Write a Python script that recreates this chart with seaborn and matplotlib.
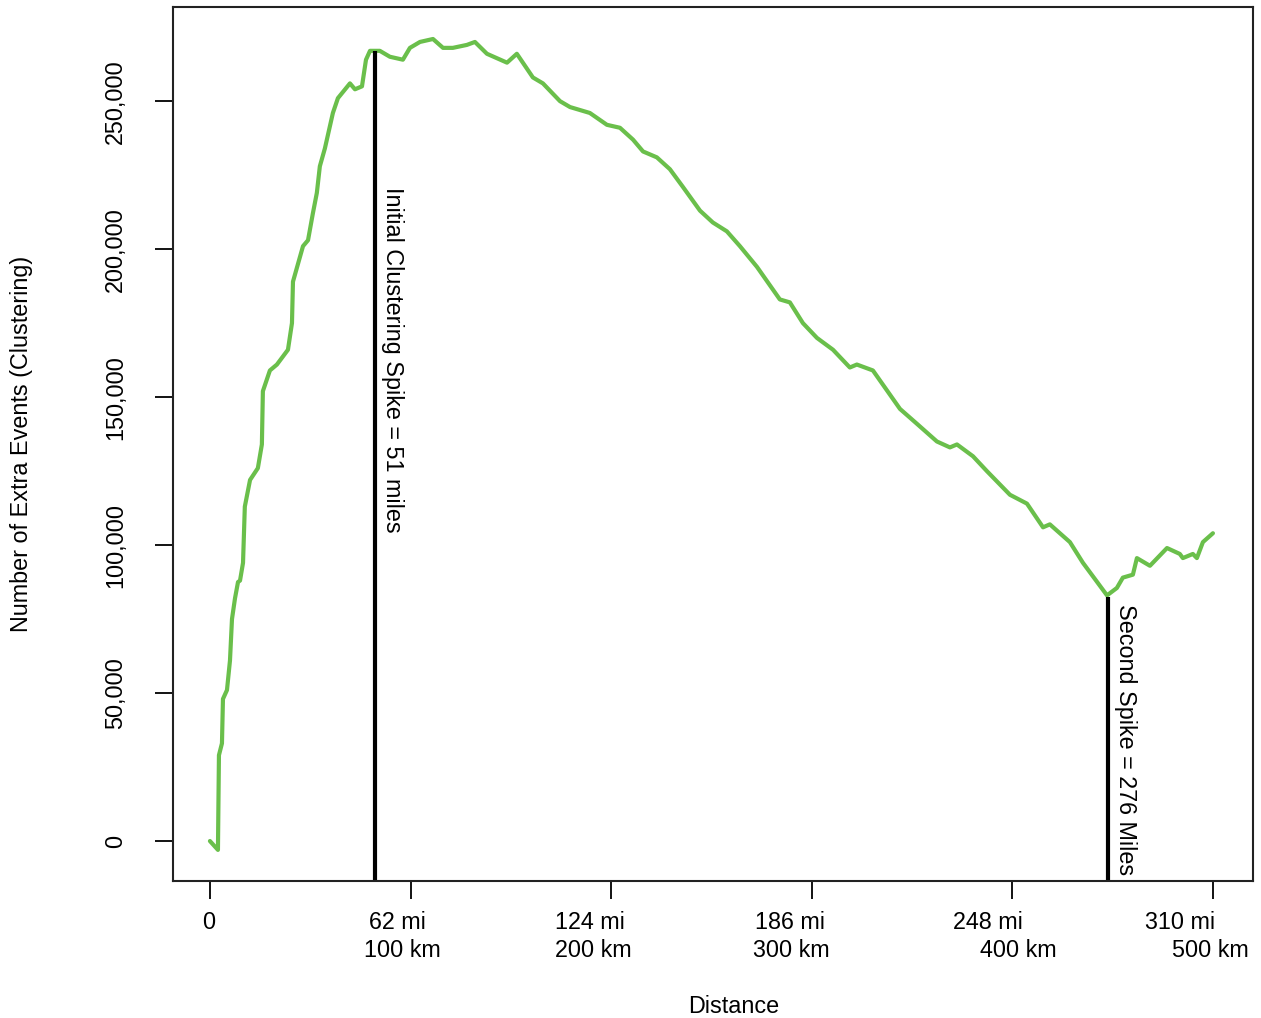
import pandas as pd
import seaborn as sns
import matplotlib.pyplot as plt
import matplotlib.ticker as mticker
from matplotlib.transforms import blended_transform_factory

# ==========================================
# DATA
# ==========================================
distance_km = [0, 4.0, 4.5, 6.0, 6.5, 8.5, 10.0, 11.0, 12.5, 14.0, 15.0, 16.5, 17.4,
               20.0, 23.9, 25.9, 26.4, 29.9, 33.4, 38.9, 40.9, 41.4, 43.9, 46.4,
               48.9, 51.3, 53.3, 54.8, 57.3, 61.3, 63.8, 69.8, 72.3, 75.8, 77.8,
               79.8, 84.7, 89.7, 96.2, 99.7, 104.7, 111.2, 116.2, 121.1, 128.1,
               132.1, 138.1, 148.1, 153.0, 161.0, 166.0, 174.5, 179.5, 189.4,
               197.9, 204.4, 210.9, 215.9, 222.8, 229.3, 235.8, 244.3, 250.7,
               257.7, 264.2, 272.7, 284.1, 289.1, 295.6, 302.6, 310.6, 319.0,
               322.5, 330.5, 344.0, 352.4, 362.4, 368.9, 372.4, 380.4, 387.3,
               398.8, 407.3, 415.3, 418.7, 428.7, 435.2, 447.2, 452.1, 455.1,
               460.1, 462.1, 468.6, 477.1, 483.5, 485.0, 490.0, 492.0, 495.0, 500.0]
extra_events = [0, -3000, 29000, 33000, 48000, 51000, 61000, 75000, 82000, 87500,
                88000, 94000, 113000, 122000, 126000, 134000, 152000, 159000,
                161000, 166000, 175000, 189000, 195000, 201000, 203000, 212000,
                219000, 228000, 234000, 246000, 251000, 256000, 254000, 255000,
                264000, 267000, 267000, 265000, 264000, 268000, 270000, 271000,
                268000, 268000, 269000, 270000, 266000, 263000, 266000, 258000,
                256000, 250000, 248000, 246000, 242000, 241000, 237000, 233000,
                231000, 227000, 221000, 213000, 209000, 206000, 201000, 194000,
                183000, 182000, 175000, 170000, 166000, 160000, 161000, 159000,
                146000, 141000, 135000, 133000, 134000, 130000, 125000, 117000,
                114000, 106000, 107000, 101000, 94000, 83000, 85500, 89000, 90000,
                95600, 93000, 99000, 97000, 95600, 97000, 95600, 101000, 104000]

tick_km = [0, 100, 200, 300, 400, 500]
mi_labels = ['0', '62 mi', '124 mi', '186 mi', '248 mi', '310 mi']
km_labels = ['', '100 km', '200 km', '300 km', '400 km', '500 km']
# where the R labels ended up (slightly off the ticks in the original)
mi_label_x = [-0.5, 93.7, 189.4, 289.0, 387.8, 483.5]
km_label_x = [None, 95.7, 191.0, 290.0, 402.8, 498.5]

spike_km = [82.3, 447.7]
spike_top = [267000, 82500]
spike_text = ['Initial Clustering Spike = 51 miles', 'Second Spike = 276 Miles']
spike_text_x = [91.2, 456.6]
spike_text_y = [221000, 80000]

df = pd.DataFrame({'km': distance_km, 'eventos': extra_events})

# ==========================================
# FIGURA
# ==========================================
sns.set_theme(style="ticks")
plt.rcParams['font.family'] = ['Liberation Sans', 'DejaVu Sans']
plt.rcParams['text.color'] = 'black'
plt.rcParams['axes.labelcolor'] = 'black'
plt.rcParams['xtick.color'] = 'black'
plt.rcParams['ytick.color'] = 'black'

FS = 16.8

fig = plt.figure(figsize=(12.61, 10.18), dpi=100)
ax = fig.add_axes([0.1372, 0.1346, 0.8565, 0.8585])

sns.lineplot(data=df, x='km', y='eventos', ax=ax, color='#6abf4b',
             linewidth=3.0, estimator=None, sort=False)

ax.set_xlim(-18.4, 520)
ax.set_ylim(-13500, 281800)

# lineas verticales de los picos
ax.vlines(spike_km, ax.get_ylim()[0], spike_top, color='black', linewidth=3.0)
for x, y, t in zip(spike_text_x, spike_text_y, spike_text):
    ax.text(x, y, t, rotation=-90, ha='center', va='top', fontsize=FS)

# ejes estilo R
for s in ax.spines.values():
    s.set_linewidth(1.5)
    s.set_color('#222222')
ax.set_yticks([0, 50000, 100000, 150000, 200000, 250000])
ax.yaxis.set_major_formatter(mticker.FuncFormatter(lambda v, p: f'{int(v):,}'))
ax.tick_params(axis='y', length=13, width=1.3, pad=20, labelsize=FS,
               labelrotation=90)
for lbl in ax.get_yticklabels():
    lbl.set_va('center')
ax.set_xticks(tick_km)
ax.set_xticklabels([])
ax.tick_params(axis='x', length=13, width=1.3)

trans = blended_transform_factory(ax.transData, ax.transAxes)
for x, t in zip(mi_label_x, mi_labels):
    ax.text(x, -0.048, t, transform=trans, ha='center', va='center', fontsize=FS)
for x, t in zip(km_label_x, km_labels):
    if x is not None:
        ax.text(x, -0.079, t, transform=trans, ha='center', va='center', fontsize=FS)

ax.set_xlabel('Distance', fontsize=FS)
ax.set_ylabel('Number of Extra Events (Clustering)', fontsize=FS)
ax.xaxis.set_label_coords(0.519, -0.130)
ax.yaxis.set_label_coords(-0.140, 0.5)
ax.yaxis.label.set_va('center')
ax.xaxis.label.set_va('top')

fig.savefig('out.png', dpi=100)
